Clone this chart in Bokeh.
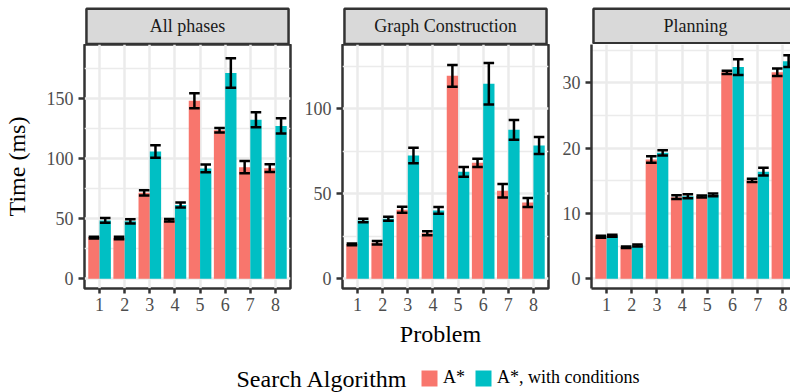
import numpy as np
from bokeh.plotting import figure
from bokeh.models import Range1d, FixedTicker, ColumnDataSource, Legend, LegendItem, Label
from bokeh.layouts import row, column
from bokeh.transform import dodge
from bokeh.embed import file_html
from bokeh.resources import INLINE
from bokeh.core.properties import value

# ---------------- data ----------------
problems = [1, 2, 3, 4, 5, 6, 7, 8]
problem_labels = ["1", "2", "3", "4", "5", "6", "7", "8"]
phases = ["All phases", "Graph Construction", "Planning"]
series_names = ["A*", "A*, with conditions"]
legend_title = "Search Algorithm"
x_title = "Problem"
y_title = "Time (ms)"

all_astar = [34.3, 34.0, 71.6, 48.8, 148.4, 123.8, 93.0, 92.2]
all_astar_err = [0.8, 1.0, 2.1, 1.0, 6.2, 1.8, 5.1, 3.3]
all_cond = [48.6, 47.9, 106.0, 61.5, 92.0, 171.5, 132.5, 127.4]
all_cond_err = [2.0, 1.8, 5.2, 2.0, 3.3, 12.2, 6.2, 6.3]

graph_astar = [20.2, 21.2, 40.6, 26.8, 119.4, 68.2, 51.8, 44.9]
graph_astar_err = [0.5, 1.0, 1.8, 1.2, 6.4, 2.4, 4.0, 2.6]
graph_cond = [34.3, 35.3, 72.5, 40.2, 62.9, 114.7, 87.6, 78.4]
graph_cond_err = [1.0, 1.2, 4.6, 2.0, 2.9, 12.2, 5.8, 5.0]

plan_astar = [6.43, 4.84, 18.26, 12.5, 12.6, 31.6, 15.05, 31.6]
plan_astar_err = [0.15, 0.12, 0.5, 0.3, 0.15, 0.25, 0.25, 0.57]
plan_cond = [6.58, 5.1, 19.28, 12.65, 12.85, 32.4, 16.4, 33.3]
plan_cond_err = [0.15, 0.15, 0.4, 0.3, 0.2, 1.2, 0.6, 0.9]

all_ticks = [0, 50, 100, 150]
graph_ticks = [0, 50, 100]
plan_ticks = [0, 10, 20, 30]

# ---------------- style ----------------
FONT = "Liberation Serif"
RED, TEAL = "#F8766D", "#00BFC4"
BORDER, GRID, STRIP = "#333333", "#EBEBEB", "#D9D9D9"
TICKTXT = "#4D4D4D"
LW = 2.5
BW = 0.45
CAP = 0.21
PANEL_H = 274
STRIP_H = 44
TOTAL_W = 790
BOTTOM_H = 74

specs = [
    dict(title=phases[0], a=all_astar, ae=all_astar_err, c=all_cond, ce=all_cond_err,
         ticks=all_ticks, yr=(-8.1, 195.25), L=83, FW=207, R=10, xend=8.6),
    dict(title=phases[1], a=graph_astar, ae=graph_astar_err, c=graph_cond, ce=graph_cond_err,
         ticks=graph_ticks, yr=(-5.7, 137.8), L=42, FW=206, R=8, xend=8.6),
    dict(title=phases[2], a=plan_astar, ae=plan_astar_err, c=plan_cond, ce=plan_cond_err,
         ticks=plan_ticks, yr=(-1.48, 35.86), L=35, FW=199, R=0, xend=8.3),
]


def minor_of(ticks, top):
    step = ticks[1] - ticks[0]
    m = []
    v = ticks[0] + step / 2
    while v < top:
        m.append(v)
        v += step
    return m


def make_strip(spec, last):
    L, FW, R = spec["L"], spec["FW"], spec["R"]
    W = L + FW + R
    xr = Range1d(-2, FW if last else FW + 2)
    s = figure(width=W, height=STRIP_H, x_range=xr, y_range=Range1d(0, STRIP_H),
               min_border_left=L - 2, min_border_right=0 if last else R - 2,
               min_border_top=0, min_border_bottom=0,
               x_axis_location=None, y_axis_location=None,
               outline_line_color=None, toolbar_location=None, output_backend="svg",
               background_fill_color="white", border_fill_color="white")
    s.grid.grid_line_color = None
    full = 206
    s.quad(left=[0], right=[full + 20 if last else FW], bottom=[1.25 if last else 0.5],
           top=[STRIP_H - 8.3],
           fill_color=STRIP, line_color=BORDER, line_width=LW)
    s.text(x=[full / 2 if last else FW / 2], y=[18.1], text=[spec["title"]],
           text_align="center", text_baseline="middle",
           text_font=value(FONT), text_font_size="18px", text_color="#1A1A1A")
    return s


def make_panel(spec, first, last):
    L, FW, R = spec["L"], spec["FW"], spec["R"]
    W = L + FW + R
    p = figure(width=W, height=PANEL_H, x_range=Range1d(0.4, spec["xend"]),
               y_range=Range1d(*spec["yr"]),
               min_border_left=L, min_border_right=R, min_border_top=0, min_border_bottom=30,
               outline_line_color=None if last else BORDER, outline_line_width=LW,
               toolbar_location=None, output_backend="svg",
               background_fill_color="white", border_fill_color="white")
    a = np.array(spec["a"]); ae = np.array(spec["ae"])
    c = np.array(spec["c"]); ce = np.array(spec["ce"])
    src = ColumnDataSource(dict(problem=problems, a=a, a_lo=a - ae, a_hi=a + ae,
                                c=c, c_lo=c - ce, c_hi=c + ce))
    p.vbar(x=dodge("problem", -BW / 2, range=p.x_range), top="a", bottom=0, width=BW,
           fill_color=RED, line_color=None, source=src)
    p.vbar(x=dodge("problem", BW / 2, range=p.x_range), top="c", bottom=0, width=BW,
           fill_color=TEAL, line_color=None, source=src)
    for off, lo, hi in [(-BW / 2, "a_lo", "a_hi"), (BW / 2, "c_lo", "c_hi")]:
        xm = dodge("problem", off, range=p.x_range)
        xl = dodge("problem", off - CAP, range=p.x_range)
        xh = dodge("problem", off + CAP, range=p.x_range)
        p.segment(x0=xm, x1=xm, y0=lo, y1=hi, line_color="black", line_width=LW, source=src)
        p.segment(x0=xl, x1=xh, y0=hi, y1=hi, line_color="black", line_width=LW, source=src)
        p.segment(x0=xl, x1=xh, y0=lo, y1=lo, line_color="black", line_width=LW, source=src)

    p.xaxis.ticker = FixedTicker(ticks=problems)
    p.xaxis.major_label_overrides = {k: v for k, v in zip(problems, problem_labels)}
    p.yaxis.ticker = FixedTicker(ticks=spec["ticks"], minor_ticks=minor_of(spec["ticks"], spec["yr"][1]))
    for ax in p.axis:
        ax.major_tick_line_color = BORDER
        ax.major_tick_line_width = LW
        ax.major_tick_in = 0
        ax.minor_tick_line_color = None
        ax.axis_line_color = BORDER if last else None
        ax.axis_line_width = LW
        ax.major_label_text_font = FONT
        ax.major_label_text_font_size = "18px"
        ax.major_label_text_color = TICKTXT
    p.xaxis.major_tick_out = 5
    p.xaxis.major_label_standoff = 4
    p.yaxis.major_tick_out = 6
    p.yaxis.major_label_standoff = 5
    if first:
        p.yaxis.axis_label = y_title
        p.yaxis.axis_label_text_font = FONT
        p.yaxis.axis_label_text_font_size = "24px"
        p.yaxis.axis_label_text_font_style = "normal"
        p.yaxis.axis_label_text_color = "black"
        p.yaxis.axis_label_standoff = 14

    p.xgrid.grid_line_color = GRID
    p.xgrid.grid_line_width = LW
    p.ygrid.grid_line_color = GRID
    p.ygrid.grid_line_width = LW
    p.ygrid.minor_grid_line_color = GRID
    p.ygrid.minor_grid_line_width = 1.3
    return p


cols = []
for i, spec in enumerate(specs):
    last = i == len(specs) - 1
    cols.append(column(make_strip(spec, last), make_panel(spec, i == 0, last)))

b = figure(width=TOTAL_W, height=BOTTOM_H, x_range=Range1d(0, TOTAL_W), y_range=Range1d(0, BOTTOM_H),
           min_border=0, x_axis_location=None, y_axis_location=None,
           outline_line_color=None, toolbar_location=None, output_backend="svg",
           background_fill_color="white", border_fill_color="white")
b.grid.grid_line_color = None
# legend-only renderers (no visible marks)
r1 = b.vbar(x=[np.nan], top=[np.nan], width=1, fill_color=RED, line_color=None)
r2 = b.vbar(x=[np.nan], top=[np.nan], width=1, fill_color=TEAL, line_color=None)
legend = Legend(items=[LegendItem(label=series_names[0], renderers=[r1]),
                       LegendItem(label=series_names[1], renderers=[r2])],
                orientation="horizontal", location=(419, 4),
                glyph_width=20, glyph_height=20, label_height=20, label_standoff=4,
                spacing=8, padding=0, margin=0, border_line_color=None,
                background_fill_alpha=0,
                label_text_font=FONT, label_text_font_size="18px",
                label_text_color="black", label_text_baseline="middle")
b.add_layout(legend)
b.add_layout(Label(x=236, y=14, text=legend_title, text_align="left",
                   text_baseline="middle", text_font=FONT, text_font_size="24px",
                   text_color="black"))
b.add_layout(Label(x=440, y=58.5, text=x_title, text_align="center",
                   text_baseline="middle", text_font=FONT, text_font_size="24px",
                   text_color="black"))

layout = column(row(*cols), b)
open("out.html", "w").write(file_html(layout, INLINE))
